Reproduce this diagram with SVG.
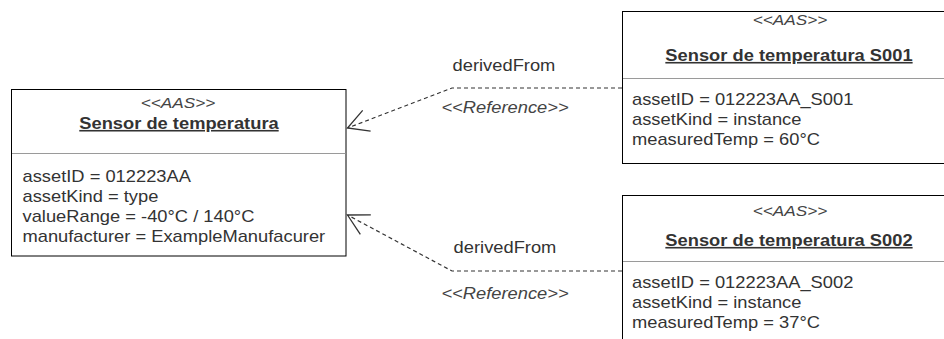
<svg xmlns="http://www.w3.org/2000/svg" width="944" height="339" viewBox="0 0 944 339">
<style>
  .box { fill: #ffffff; stroke: #000000; stroke-width: 1; }
  .div { stroke: #9a9a9a; stroke-width: 1.2; fill: none; }
  .t { font-family: "Liberation Sans", Arial, sans-serif; font-size: 16px; fill: #333333; }
  .st { font-family: "Liberation Sans", Arial, sans-serif; font-size: 15px; font-style: italic; fill: #444444; text-anchor: middle; }
  .ttl { font-family: "Liberation Sans", Arial, sans-serif; font-size: 16px; font-weight: bold; fill: #333333; text-anchor: middle; text-decoration: underline; }
  .lbl { font-family: "Liberation Sans", Arial, sans-serif; font-size: 16px; fill: #333333; text-anchor: middle; }
  .lbli { font-family: "Liberation Sans", Arial, sans-serif; font-size: 16px; font-style: italic; fill: #444444; text-anchor: middle; }
  .edge { fill: none; stroke: #333333; stroke-width: 1.2; stroke-dasharray: 4 3; }
</style>
<defs>
  <marker id="open" markerUnits="userSpaceOnUse" markerWidth="40" markerHeight="40" refX="0" refY="0" orient="auto" overflow="visible" viewBox="-30 -20 40 40">
    <path d="M-20.5,-11.1 L0,0 L-20.5,11.1" fill="none" stroke="#333333" stroke-width="1.3" stroke-dasharray="none"/>
  </marker>
</defs>

<g id="node-sensor">
  <rect class="box" x="11.5" y="89.5" width="334.5" height="166.5"/>
  <line class="div" x1="12" y1="153.5" x2="345.5" y2="153.5"/>
  <g transform="scale(1.145 1)">
    <text class="st" x="155.46" y="108">&lt;&lt;AAS&gt;&gt;</text>
    <text class="ttl" x="156.33" y="129">Sensor de temperatura</text>
    <text class="t" x="19.65" y="182">assetID = 012223AA</text>
    <text class="t" x="19.65" y="202">assetKind = type</text>
    <text class="t" x="19.65" y="222">valueRange = -40°C / 140°C</text>
    <text class="t" x="19.65" y="242">manufacturer = ExampleManufacurer</text>
  </g>
</g>

<g id="node-s001">
  <rect class="box" x="622.5" y="11.5" width="340" height="152"/>
  <line class="div" x1="623" y1="78.5" x2="944" y2="78.5"/>
  <g transform="scale(1.145 1)">
    <text class="st" x="689.96" y="25">&lt;&lt;AAS&gt;&gt;</text>
    <text class="ttl" x="689.08" y="61">Sensor de temperatura S001</text>
    <text class="t" x="551.97" y="105">assetID = 012223AA_S001</text>
    <text class="t" x="551.97" y="125">assetKind = instance</text>
    <text class="t" x="551.97" y="145">measuredTemp = 60°C</text>
  </g>
</g>

<g id="node-s002">
  <rect class="box" x="622.5" y="195.5" width="340" height="200"/>
  <line class="div" x1="623" y1="261.5" x2="944" y2="261.5"/>
  <g transform="scale(1.145 1)">
    <text class="st" x="689.96" y="216.5">&lt;&lt;AAS&gt;&gt;</text>
    <text class="ttl" x="689.08" y="246">Sensor de temperatura S002</text>
    <text class="t" x="551.97" y="288">assetID = 012223AA_S002</text>
    <text class="t" x="551.97" y="308">assetKind = instance</text>
    <text class="t" x="551.97" y="328">measuredTemp = 37°C</text>
  </g>
</g>

<g id="connectors">
  <path class="edge" d="M622,88 L452,88 L347.5,128" marker-end="url(#open)"/>
  <path class="edge" d="M622,271 L452,271 L347.5,215" marker-end="url(#open)"/>
  <g transform="scale(1.145 1)">
    <text class="lbl" x="440.17" y="71">derivedFrom</text>
    <text class="lbli" x="441.05" y="113">&lt;&lt;Reference&gt;&gt;</text>
    <text class="lbl" x="441.05" y="253">derivedFrom</text>
    <text class="lbli" x="441.05" y="299">&lt;&lt;Reference&gt;&gt;</text>
  </g>
</g>
</svg>
